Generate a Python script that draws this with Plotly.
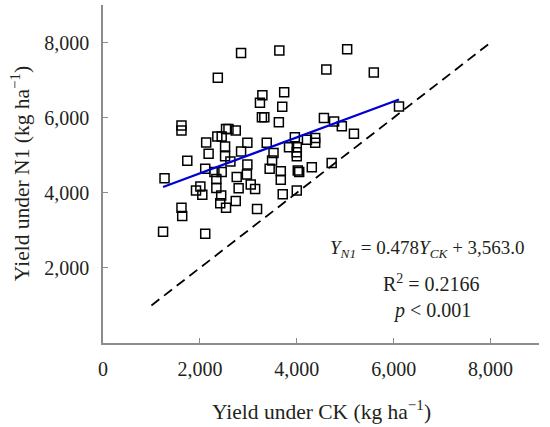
import plotly.graph_objects as go

# yields (kg/ha)
yield_ck = [2850, 3640, 5040, 2370, 4610, 5590, 3290, 3740, 3240, 3700, 6110,
            3280, 3330, 3630, 4560, 4770, 4930, 5180, 3380, 3960, 3840,
            4000, 4000, 4000, 4210, 4380, 4380, 3520, 3490, 3440, 3670, 3670,
            4020, 4050, 4310, 4720, 3710, 4000,
            1620, 1620, 2540, 2590, 2360, 2450, 2740, 2130, 2520, 2980, 2180,
            2520, 2850, 1740, 2630, 2980, 1270, 2110, 2300, 2450, 2340, 2760,
            2970, 2340, 2010, 1920, 2050, 2800, 3050, 3140, 2440, 2420, 2540,
            2740, 1620, 1635, 3180, 1240, 2110]
yield_n1 = [7720, 7790, 7820, 7060, 7280, 7200, 6600, 6680, 6400, 6290, 6300,
            6010, 6010, 5880, 5990, 5900, 5770, 5570, 5330, 5480, 5210,
            5210, 5080, 4970, 5410, 5460, 5330, 5060, 4860, 4640, 4570, 4350,
            4590, 4550, 4680, 4790, 3960, 4060,
            5790, 5660, 5700, 5700, 5500, 5500, 5660, 5340, 5230, 5330, 5040,
            4970, 5100, 4850, 4830, 4750, 4390, 4640, 4550, 4550, 4370, 4420,
            4490, 4130, 4170, 4060, 3950, 4120, 4220, 4100, 3930, 3720, 3600,
            3780, 3600, 3380, 3570, 2960, 2910]

slope = 0.478
intercept = 3563.0
fit_x = [min(yield_ck), max(yield_ck)]
fit_y = [slope * v + intercept for v in fit_x]
one_to_one = [1000, 8000]

tick_vals = [0, 2000, 4000, 6000, 8000]

serif = "Palatino Linotype, Book Antiqua, Palatino, Liberation Serif, serif"

fig = go.Figure()
fig.add_trace(go.Scatter(x=one_to_one, y=one_to_one, mode="lines",
                         line=dict(color="black", width=1.8, dash="10px,6px"),
                         showlegend=False))
fig.add_trace(go.Scatter(x=yield_ck, y=yield_n1, mode="markers",
                         marker=dict(symbol="square-open", size=9, color="black",
                                     line=dict(width=1.5, color="black")),
                         showlegend=False))
fig.add_trace(go.Scatter(x=fit_x, y=fit_y, mode="lines",
                         line=dict(color="#0000d4", width=2.2), showlegend=False))

axis_common = dict(range=[0, 9000], showgrid=False, zeroline=False,
                   showline=True, linecolor="#8c8c8c", linewidth=1.5,
                   ticks="inside", ticklen=5, tickcolor="#8c8c8c", tickwidth=1,
                   tickformat=",", tickfont=dict(family=serif, size=20, color="#231f20"))
fig.update_xaxes(tickvals=tick_vals, ticklabelstandoff=7, **axis_common)
fig.update_yaxes(tickvals=tick_vals[1:], ticklabelstandoff=8, **axis_common)

title_font = dict(family=serif, size=21.5, color="#231f20")
txt = dict(family=serif, size=20, color="#231f20")
fig.add_annotation(text="Yield under CK (kg ha<sup>\u22121</sup>)", xref="paper", yref="paper",
                   x=0.5, y=-0.2, showarrow=False, font=title_font,
                   xanchor="center", yanchor="middle")
fig.add_annotation(text="Yield under N1 (kg ha<sup>\u22121</sup>)", xref="paper", yref="paper",
                   x=-0.19, y=0.5, showarrow=False, font=title_font, textangle=-90,
                   xanchor="center", yanchor="middle")
fig.add_annotation(text="<i>Y</i><sub><i>N1</i></sub> = 0.478<i>Y</i><sub><i>CK</i></sub> + 3,563.0",
                   x=6700, y=2500, showarrow=False, font=dict(family=serif, size=19, color="#231f20"),
                   xanchor="center", yanchor="middle")
fig.add_annotation(text="R<sup>2</sup> = 0.2166", x=6790, y=1600, showarrow=False,
                   font=txt, xanchor="center", yanchor="middle")
fig.add_annotation(text="<i>p</i> &lt; 0.001", x=6790, y=870, showarrow=False,
                   font=txt, xanchor="center", yanchor="middle")

fig.update_layout(width=550, height=427, plot_bgcolor="white", paper_bgcolor="white",
                  margin=dict(l=103, r=11, t=5, b=84))

# page has a default 8px body margin, drop it so the figure sits at 0,0
fig.write_html("out.html", config={"displayModeBar": False},
               post_script="document.body.style.margin='0';")
